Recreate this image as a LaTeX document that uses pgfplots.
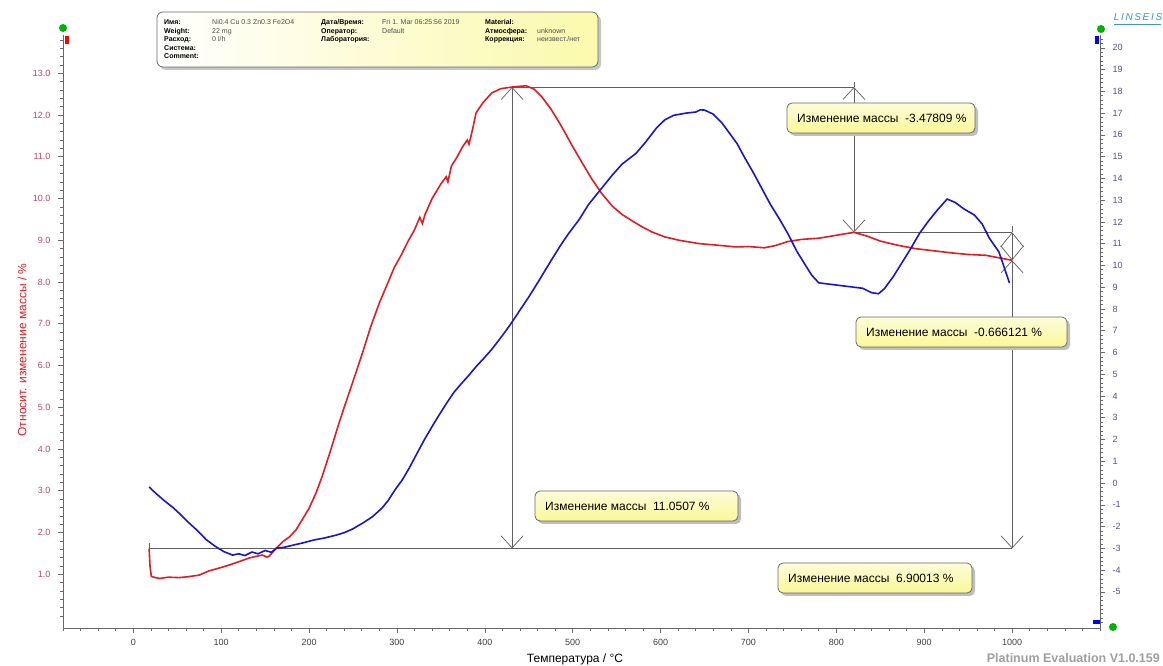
\documentclass[border=0pt]{standalone}
\usepackage{pgfplots}
\pgfplotsset{compat=1.18}
\usetikzlibrary{arrows.meta}
\usepackage{fontspec}
\setmainfont{Liberation Sans}
\definecolor{redc}{RGB}{228,28,34}
\definecolor{bluec}{RGB}{22,22,205}
\definecolor{ltick}{RGB}{190,70,100}
\definecolor{rtick}{RGB}{80,80,165}
\definecolor{axgray}{RGB}{105,105,105}
\definecolor{mgray}{RGB}{95,95,95}
\definecolor{boxyel}{RGB}{250,248,150}
\definecolor{logoc}{RGB}{60,150,205}
\newcommand{\abox}[5]{% x1 y1 x2 y2 text
  \fill[gray!50, rounded corners=5pt] (#1+3,#2-3) rectangle (#3+3,#4-3);
  \draw[draw=axgray, line width=0.8pt, rounded corners=5pt, top color=boxyel!35, bottom color=boxyel] (#1,#2) rectangle (#3,#4);
  \node[anchor=west, inner sep=0pt, font=\fontsize{12}{14}\selectfont] at (#1+10,{(#2+#4)/2}) {#5};}
\begin{document}
\begin{tikzpicture}[x=1pt,y=1pt,
  mline/.style={draw=mgray, line width=0.7pt},
  barbs/.style={mline, {Straight Barb[length=12pt,width=22pt]}-{Straight Barb[length=12pt,width=22pt]}}]
\useasboundingbox (0,0) rectangle (1163,666);
\fill[white] (0,0) rectangle (1163,666);
% header box
\fill[gray!45, rounded corners=6pt] (160,596) rectangle (601,651);
\shade[left color=white, right color=boxyel!80, draw=axgray, line width=0.8pt, rounded corners=6pt] (157,599) rectangle (598,654);
\begin{scope}[every node/.style={anchor=base west, inner sep=0pt, font=\fontsize{7}{8}\selectfont}]
\node[font=\fontsize{7}{8}\selectfont\bfseries] at (164,641) {Имя:};
\node[font=\fontsize{7}{8}\selectfont\bfseries] at (164,632.5) {Weight:};
\node[font=\fontsize{7}{8}\selectfont\bfseries] at (164,624) {Расход:};
\node[font=\fontsize{7}{8}\selectfont\bfseries] at (164,615.5) {Система:};
\node[font=\fontsize{7}{8}\selectfont\bfseries] at (164,607) {Comment:};
\node[text=gray!60!black] at (212,641) {Ni0.4 Cu 0.3 Zn0.3 Fe2O4};
\node[text=gray!60!black] at (212,632.5) {22 mg};
\node[text=gray!60!black] at (212,624) {0 l/h};
\node[font=\fontsize{7}{8}\selectfont\bfseries] at (321,641) {Дата/Время:};
\node[font=\fontsize{7}{8}\selectfont\bfseries] at (321,632.5) {Оператор:};
\node[font=\fontsize{7}{8}\selectfont\bfseries] at (321,624) {Лаборатория:};
\node[text=gray!60!black] at (382,641) {Fri 1. Mar 06:25:56 2019};
\node[text=gray!60!black] at (382,632.5) {Default};
\node[font=\fontsize{7}{8}\selectfont\bfseries] at (485,641) {Material:};
\node[font=\fontsize{7}{8}\selectfont\bfseries] at (485,632.5) {Атмосфера:};
\node[font=\fontsize{7}{8}\selectfont\bfseries] at (485,624) {Коррекция:};
\node[text=gray!60!black] at (537,632.5) {unknown};
\node[text=gray!60!black] at (537,624) {неизвест./нет};
\end{scope}
% logo
\node[text=logoc, font=\fontsize{10}{12}\selectfont\itshape, inner sep=0pt] at (1138,649) {L\,I\,N\,S\,E\,I\,S};
\draw[logoc, line width=0.7pt] (1114,642) -- (1161,642);
% version
\node[anchor=east, text=gray!75, font=\fontsize{12.5}{14}\selectfont\bfseries, inner sep=0pt] at (1160,8) {Platinum Evaluation V1.0.159};
\node[font=\fontsize{12}{14}\selectfont, inner sep=0pt] at (575,7) {Температура / °C};
\node[rotate=90, text=redc, font=\fontsize{12}{14}\selectfont, inner sep=0pt] at (22,316) {Относит. изменение массы / \%};

\begin{axis}[at={(63pt,38pt)}, anchor=south west, scale only axis,
  width=1037pt, height=593pt,
  xmin=-80, xmax=1100, ymin=-0.287, ymax=13.917,
  axis x line*=bottom, axis y line*=left,
  axis line style={axgray, line width=0.8pt},
  tick align=outside, major tick length=5pt, minor tick length=3pt,
  every tick/.style={axgray, line width=0.6pt},
  xtick={0,100,...,1000}, minor xtick={-80,-60,...,1100},
  ytick={1,2,...,13}, minor ytick={0,0.2,...,13.8},
  /pgf/number format/assume math mode=true,
  /pgf/number format/1000 sep={},
  xticklabel style={text=black!75, font=\fontsize{9}{10}\selectfont, yshift=-3pt},
  yticklabel style={text=ltick, font=\fontsize{9}{10}\selectfont, xshift=-4pt,
     /pgf/number format/.cd, fixed, fixed zerofill, precision=1},
  clip=false]
% measurement lines
\draw[mline] (axis cs:18,1.62) -- (axis cs:1000,1.62);
\draw[mline] (axis cs:18,1.52) -- (axis cs:18,1.74);
\draw[barbs] (axis cs:431,1.62) -- (axis cs:431,12.67);
\draw[mline] (axis cs:431,12.67) -- (axis cs:820,12.67);
\draw[mline] (axis cs:820,12.67) -- (axis cs:820,12.80);
\draw[barbs] (axis cs:820,12.67) -- (axis cs:820,9.19);
\draw[mline] (axis cs:820,9.19) -- (axis cs:1000,9.19);
\draw[mline] (axis cs:1000,9.19) -- (axis cs:1000,9.33);
\draw[mline, {Straight Barb[length=14pt,width=23pt]}-{Straight Barb[length=14pt,width=23pt]}] (axis cs:1000,9.19) -- (axis cs:1000,8.52);
\draw[barbs] (axis cs:1000,8.52) -- (axis cs:1000,1.62);
\addplot[redc, line width=1.6pt] table {
18 1.62
19 1.20
20.5 0.95
25 0.92
30 0.90
40 0.93
52 0.92
62 0.94
75 0.98
86 1.08
98 1.15
109 1.22
120 1.30
132 1.39
140 1.43
147 1.46
152 1.41
155 1.44
160 1.56
163 1.63
170 1.78
178 1.90
185 2.06
192 2.30
200 2.58
208 2.95
215 3.35
225 4.00
233 4.55
240 5.00
250 5.62
260 6.25
270 6.92
280 7.50
290 8.00
297 8.35
305 8.65
312 8.95
320 9.25
326 9.55
329 9.40
332 9.62
340 10.00
350 10.35
356 10.52
358 10.40
362 10.78
368 10.98
375 11.25
380 11.40
382 11.30
386 11.65
390 12.05
398 12.30
408 12.53
418 12.63
431 12.67
447 12.70
456 12.62
465 12.43
475 12.15
485 11.81
492 11.55
499 11.28
510 10.88
522 10.46
533 10.12
545 9.82
556 9.62
568 9.46
580 9.31
590 9.20
605 9.08
621 9.00
644 8.92
666 8.88
686 8.84
700 8.85
718 8.82
730 8.87
745 8.97
760 9.02
780 9.05
800 9.12
820 9.19
835 9.10
850 8.98
870 8.88
890 8.80
910 8.75
930 8.70
950 8.66
970 8.64
985 8.58
1000 8.52
};
\end{axis}

\begin{axis}[at={(63pt,38pt)}, anchor=south west, scale only axis,
  width=1037pt, height=593pt,
  xmin=-80, xmax=1100, ymin=-6.66, ymax=20.59,
  hide x axis, axis y line*=right,
  axis line style={axgray, line width=0.8pt},
  tick align=outside, major tick length=5pt, minor tick length=3pt,
  every tick/.style={axgray, line width=0.6pt},
  ytick={-5,-4,...,20}, minor ytick={-6.4,-6.2,...,20.4},
  /pgf/number format/assume math mode=true,
  yticklabel style={text=rtick, font=\fontsize{9}{10}\selectfont, xshift=4pt},
  clip=false]
\addplot[bluec, line width=1.6pt] table {
18 -0.18
25 -0.45
35 -0.80
45 -1.12
52 -1.38
62 -1.78
72 -2.15
83 -2.60
93 -2.90
103 -3.15
113 -3.31
120 -3.25
127 -3.33
135 -3.17
142 -3.25
150 -3.10
157 -3.18
163 -2.99
172 -2.95
182 -2.85
192 -2.76
205 -2.62
218 -2.52
231 -2.39
240 -2.28
250 -2.10
261 -1.84
272 -1.55
283 -1.15
290 -0.80
298 -0.30
306 0.14
314 0.69
322 1.30
331 1.98
340 2.60
348 3.13
357 3.70
365 4.18
374 4.60
382 4.96
390 5.35
399 5.74
408 6.15
416 6.57
424 7.00
431 7.40
440 7.95
450 8.55
462 9.33
475 10.20
485 10.85
495 11.45
507 12.09
518 12.80
530 13.40
545 14.15
556 14.65
572 15.15
583 15.67
595 16.30
605 16.70
615 16.90
629 17.00
640 17.05
645 17.15
650 17.14
660 16.95
670 16.54
687 15.60
695 15.00
705 14.30
715 13.55
725 12.80
735 12.15
745 11.45
755 10.65
765 10.00
772 9.55
780 9.20
790 9.15
800 9.10
810 9.05
820 9.00
830 8.95
840 8.75
848 8.70
855 8.95
865 9.50
875 10.15
885 10.80
895 11.50
905 12.05
915 12.55
926 13.05
935 12.90
945 12.60
957 12.32
966 11.90
974 11.26
985 10.62
997 9.19
};
\end{axis}
% markers
\fill[green!70!black] (63,638) circle (4);
\fill[green!70!black] (1101,637) circle (4);
\fill[green!70!black] (1113,39) circle (4);
\fill[red] (65,622) rectangle (69,630);
\fill[blue] (1095,622) rectangle (1099,630);
\fill[blue] (1093,42) rectangle (1100,46);
% annotation boxes
\abox{787}{563}{975}{533}{Изменение массы\ \ -3.47809 \%}
\abox{856}{349}{1067}{319}{Изменение массы\ \ -0.666121 \%}
\abox{535}{175}{738}{145}{Изменение массы\ \ 11.0507 \%}
\abox{778}{103}{972}{73}{Изменение массы\ \ 6.90013 \%}
\end{tikzpicture}
\end{document}
